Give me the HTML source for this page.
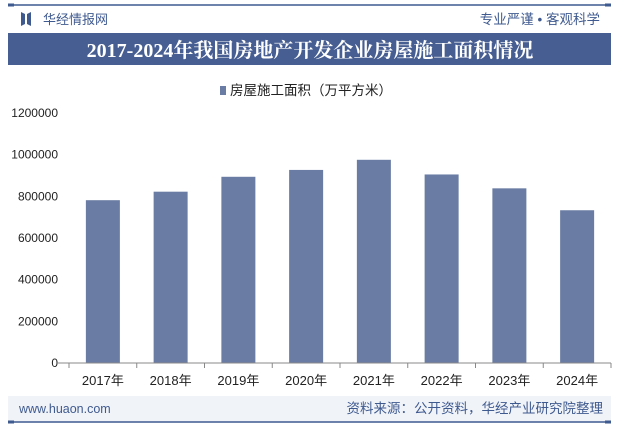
<!DOCTYPE html>
<html><head><meta charset="utf-8"><style>
body{margin:0;width:619px;height:429px;background:#fff;overflow:hidden;font-family:"Liberation Sans","Noto Sans CJK SC",sans-serif;}
</style></head><body>
<svg width="619" height="429" xmlns="http://www.w3.org/2000/svg">
<line x1="8" y1="5" x2="611" y2="5" stroke="#3f5a8f" stroke-width="1.5"/>
<rect x="8" y="3.5" width="6" height="3" fill="#3f5a8f"/><rect x="605" y="3.5" width="6" height="3" fill="#3f5a8f"/>
<path d="M21 12 L25 14 L25 24 L21 26 Z M27 14 L31 12 L31 26 L27 24 Z" fill="#3f5a8f"/>
<text x="43" y="24" font-size="13" fill="#3f5a8f">华经情报网</text>
<text x="600" y="24" font-size="13.5" fill="#3f5a8f" text-anchor="end">专业严谨 • 客观科学</text>
<rect x="8" y="33" width="603" height="32" fill="#475e92"/>
<text x="310" y="57" font-size="20" font-weight="bold" fill="#fff" text-anchor="middle" font-family="'Liberation Serif','Noto Serif CJK SC',serif">2017-2024年我国房地产开发企业房屋施工面积情况</text>
<rect x="220" y="86" width="6" height="9" fill="#6a7ca3"/>
<text x="230" y="95" font-size="13.5" fill="#222">房屋施工面积（万平方米）</text>
<g id="plot"></g>
<rect x="8" y="396" width="603" height="26" fill="#f0f3f8"/>
<line x1="8" y1="422" x2="611" y2="422" stroke="#3f5a8f" stroke-width="1.5"/>
<rect x="8" y="420.5" width="6" height="3" fill="#3f5a8f"/><rect x="605" y="420.5" width="6" height="3" fill="#3f5a8f"/>
<text x="19" y="413" font-size="12.5" fill="#3f5a8f">www.huaon.com</text>
<text x="603" y="413" font-size="13.5" fill="#3f5a8f" text-anchor="end">资料来源：公开资料，华经产业研究院整理</text>
</svg>
<script>
const categories=["2017年","2018年","2019年","2020年","2021年","2022年","2023年","2024年"];
const values=[781484,822300,893821,926759,975387,904999,838364,733247];
const yTicks=[0,200000,400000,600000,800000,1000000,1200000];
const NS="http://www.w3.org/2000/svg";
const g=document.getElementById("plot");
const x0=69,x1=611,y0=363,y1=113,yMax=1200000;
const band=(x1-x0)/categories.length;
const y=v=>y0-(v/yMax)*(y0-y1);
const xc=i=>x0+band*(i+0.5);
function mk(t,a){const e=document.createElementNS(NS,t);for(const k in a)e.setAttribute(k,a[k]);g.appendChild(e);return e;}
yTicks.forEach(t=>{const e=mk("text",{x:x0-11,y:y(t)+4,"font-size":12,fill:"#222","text-anchor":"end"});e.textContent=t;

});
values.forEach((v,i)=>{const r=mk("rect",{x:xc(i)-17,y:y(v),width:34,height:y0-y(v),fill:"#6a7ca3"});

});
const ax=mk("line",{x1:x0-11,y1:y0,x2:x1,y2:y0,stroke:"#888","stroke-width":1});


for(let i=0;i<=categories.length;i++)mk("line",{x1:x0+band*i,y1:y0,x2:x0+band*i,y2:y0+5,stroke:"#888"});
categories.forEach((c,i)=>{const e=mk("text",{x:xc(i),y:y0+22,"font-size":13,fill:"#222","text-anchor":"middle"});e.textContent=c;

});
</script>
</body></html>
